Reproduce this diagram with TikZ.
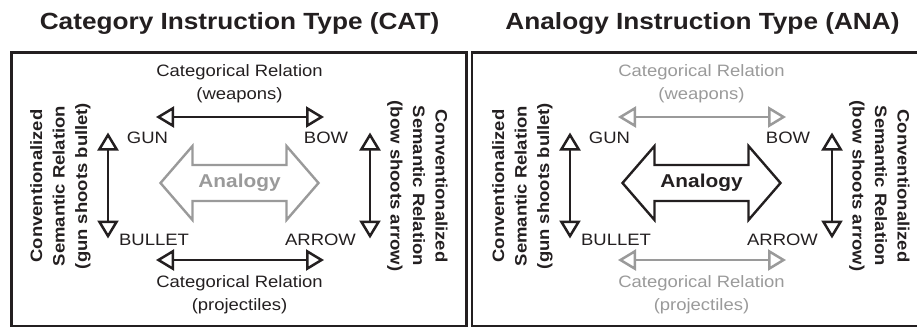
\documentclass[tikz,border=0pt]{standalone}
\usepackage{fontspec}
\setmainfont{Liberation Sans}[FakeStretch=1.12]
\usetikzlibrary{arrows.meta}
\definecolor{ink}{HTML}{231F20}
\definecolor{pale}{HTML}{9A9A9A}
\begin{document}
\begin{tikzpicture}[x=1pt,y=-1pt,
  lbl/.style={font=\fontsize{16.5}{22.5}\selectfont, inner sep=0pt, align=center},
  side/.style={font=\fontsize{16.5}{22.5}\selectfont\bfseries, inner sep=0pt, align=center, text=ink},
  titlebox/.style={font=\fontsize{23.4}{28}\selectfont\bfseries, inner sep=0pt, text=ink},
  rel/.style={line width=2.5pt, {Triangle[open,length=18pt,width=21pt]}-{Triangle[open,length=18pt,width=21pt]}},
  panel/.style={line width=2.2pt, draw=ink},
  bigarrow/.style={line width=2.4pt, fill=white, line join=miter},
  analbl/.style={font=\fontsize{18.6}{22}\selectfont\bfseries, inner sep=0pt}
]
\useasboundingbox (0,0) rectangle (917,327);

% titles
\node[titlebox, anchor=base] (cattitle) at (239.5,29.5) {Category Instruction Type (CAT)};
\node[titlebox, anchor=base] (anatitle) at (702.5,29.5) {Analogy Instruction Type (ANA)};

% panel frames
\draw[panel] (11.5,326) -- (11.5,52.5) -- (466.5,52.5) -- (466.5,326) -- cycle;
\draw[panel] (920,52.5) -- (472,52.5) -- (472,326) -- (920,326);

\foreach \p/\dx/\cc/\ac in {1/0/ink/pale, 2/462/pale/ink} {
\begin{scope}[xshift=\dx pt]
  % big analogy arrow
  \coordinate (ana\p) at (239.5,183);
  \begin{scope}[shift={(ana\p)}]
    \draw[bigarrow, draw=\ac] (-79,0) -- (-47,-37) -- (-47,-18) -- (47,-18) -- (47,-37)
      -- (79,0) -- (47,37) -- (47,18) -- (-47,18) -- (-47,37) -- cycle;
  \end{scope}
  \node[analbl, text=\ac] (analogy\p) at (ana\p) {Analogy};

  % word nodes
  \node[lbl, text=ink] (gun\p) at (147.5,137.5) {GUN};
  \node[lbl, text=ink] (bow\p) at (326,137.5) {BOW};
  \node[lbl, text=ink] (bullet\p) at (154,239.5) {BULLET};
  \node[lbl, text=ink] (arrow\p) at (320.5,239.5) {ARROW};

  % relation labels
  \node[lbl, text=\cc] (weapons\p) at (239.5,83.5) {Categorical Relation\\(weapons)};
  \node[lbl, text=\cc] (projectiles\p) at (239.5,294.7) {Categorical Relation\\(projectiles)};
  \node[side, rotate=90] (leftrel\p) at (60.4,186) {Conventionalized\\Semantic Relation\\(gun shoots bullet)};
  \node[side, rotate=-90] (rightrel\p) at (417.3,186) {Conventionalized\\Semantic Relation\\(bow shoots arrow)};

  % connector end points
  \coordinate (tl\p) at (156,117);
  \coordinate (tr\p) at (324,117);
  \coordinate (bl\p) at (156,260);
  \coordinate (br\p) at (324,260);
  \coordinate (lt\p) at (108,132.5);
  \coordinate (lb\p) at (108,238.5);
  \coordinate (rt\p) at (370,132.5);
  \coordinate (rb\p) at (370,238.5);

  \draw[rel, draw=\cc] (tl\p) -- (tr\p);
  \draw[rel, draw=\cc] (bl\p) -- (br\p);
  \draw[rel, draw=ink] (lt\p) -- (lb\p);
  \draw[rel, draw=ink] (rt\p) -- (rb\p);
\end{scope}
}
\end{tikzpicture}
\end{document}
